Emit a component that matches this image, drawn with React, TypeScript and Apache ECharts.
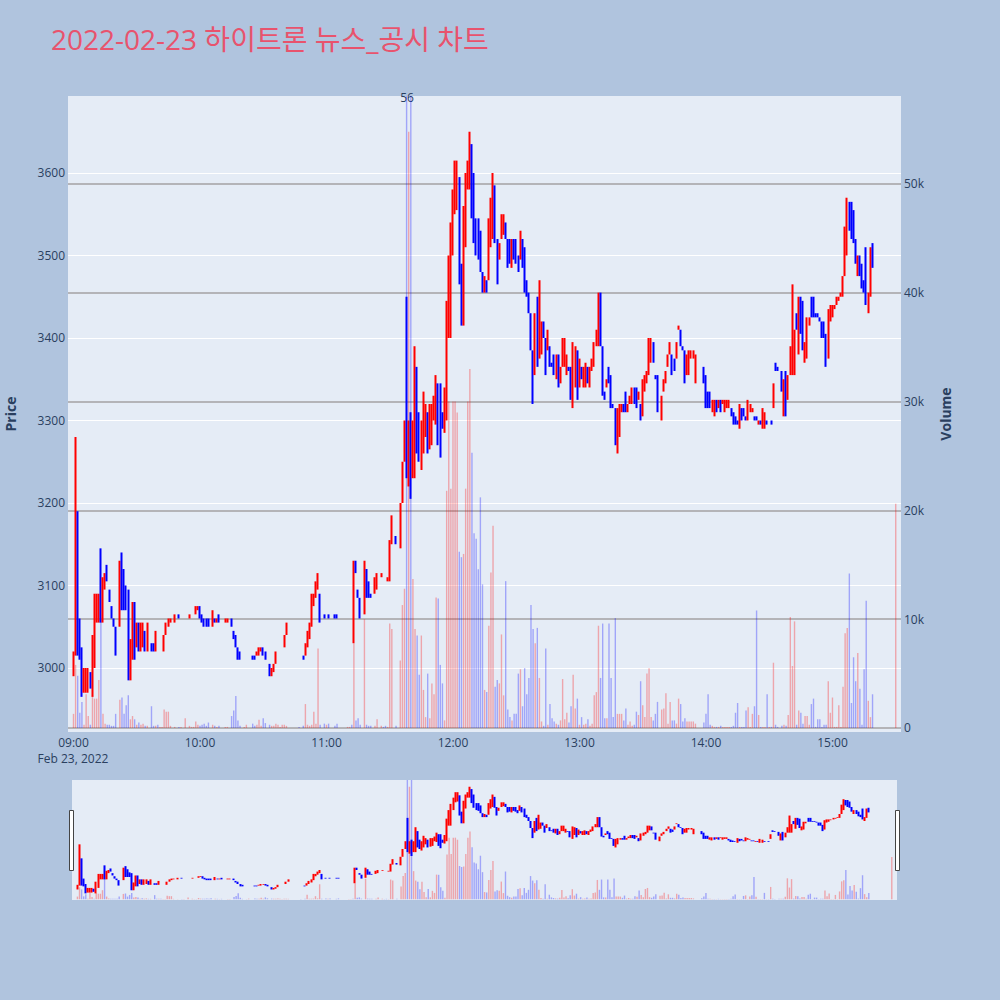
import React, { useEffect, useRef } from "react";
import * as echarts from "echarts";

// One row per minute of the session: [open, high, low, close, volume]; null = no trade in that minute.
type Row = [number, number, number, number, number] | null;

const h09: Row[] = [
  [2995, 3020, 2990, 3020, 1300], [3020, 3280, 3015, 3190, 5800], [3190, 3190, 3015, 3055, 4800], [3055, 3060, 3010, 3020, 1400], [3020, 3025, 2965, 2975, 2400],
  [2975, 3000, 2970, 3000, 300], [2980, 3000, 2970, 2995, 3100], [2975, 3000, 2970, 2995, 1100], [2990, 2995, 2975, 2980, 300], [2975, 3040, 2965, 3035, 3000],
  [3035, 3090, 3000, 3090, 2700], [3060, 3090, 3055, 3090, 2700], [3060, 3090, 3055, 3090, 4400], [3090, 3145, 3055, 3060, 10000], [3060, 3110, 3055, 3110, 1300],
  [3100, 3115, 3095, 3110, 400], [3120, 3125, 3105, 3110, 300], [3090, 3095, 3080, 3080, 300], [3075, 3075, 3060, 3065, 200], [3060, 3060, 3050, 3055, 200],
  [3050, 3050, 3015, 3015, 1300], null, [3055, 3130, 3050, 3125, 2600], [3135, 3140, 3070, 3075, 2800], [3120, 3120, 3070, 3075, 1300],
  [3100, 3100, 3070, 3075, 2100], [3090, 3095, 2985, 2985, 3000], [2985, 3035, 2985, 3030, 800], [3030, 3080, 3010, 3055, 1100], [3055, 3080, 3010, 3020, 800],
  [3025, 3055, 3025, 3050, 300], [3055, 3055, 3020, 3020, 500], [3030, 3055, 3020, 3050, 300], [3030, 3055, 3025, 3045, 400], [3045, 3045, 3020, 3025, 200],
  [3025, 3055, 3020, 3055, 200], null, [3030, 3030, 3020, 3020, 2000], [3025, 3030, 3020, 3020, 200], [3020, 3045, 3020, 3045, 200],
  [3020, 3020, 3020, 3020, 300], [3020, 3020, 3020, 3020, 100], [3020, 3020, 3020, 3020, 100], [3020, 3040, 3020, 3040, 1700], [3040, 3055, 3040, 3055, 1500],
  [3055, 3060, 3050, 3060, 1500], [3055, 3060, 3055, 3060, 200], null, [3060, 3065, 3055, 3065, 100], null,
  [3065, 3065, 3060, 3060, 100], [3060, 3060, 3060, 3060, 100], null, [3060, 3060, 3060, 3060, 900], null,
  [3060, 3065, 3060, 3065, 200], [3070, 3070, 3070, 3070, 100], [3070, 3070, 3070, 3070, 100], [3070, 3075, 3065, 3075, 600], [3070, 3075, 3070, 3075, 300],
];

const h10: Row[] = [
  [3075, 3075, 3060, 3065, 200], [3065, 3065, 3055, 3060, 300], [3060, 3060, 3050, 3055, 400], [3055, 3060, 3050, 3050, 200], [3060, 3060, 3050, 3050, 500],
  null, [3050, 3070, 3050, 3065, 300], [3060, 3060, 3055, 3055, 200], [3055, 3060, 3055, 3060, 100], [3065, 3065, 3055, 3055, 200],
  null, null, [3055, 3060, 3055, 3060, 100], [3055, 3060, 3055, 3060, 100], null,
  [3060, 3060, 3050, 3050, 1100], [3045, 3045, 3035, 3035, 1600], [3040, 3040, 3025, 3025, 2950], [3025, 3025, 3010, 3015, 700], [3020, 3020, 3010, 3010, 200],
  null, [3010, 3010, 3010, 3010, 100], [3010, 3010, 3010, 3010, 300], null, null,
  [3015, 3015, 3010, 3010, 400], [3015, 3015, 3010, 3010, 200], [3015, 3020, 3015, 3020, 300], [3020, 3025, 3015, 3025, 750], [3020, 3025, 3020, 3025, 200],
  [3025, 3025, 3015, 3015, 900], [3020, 3020, 3010, 3010, 450], null, [3005, 3005, 2990, 2990, 300], [2990, 3000, 2990, 2995, 200],
  [2995, 3005, 2995, 3005, 200], [3005, 3020, 3005, 3020, 400], [3020, 3020, 3020, 3020, 300], [3020, 3020, 3020, 3020, 100], [3020, 3020, 3020, 3020, 300],
  [3025, 3040, 3025, 3040, 300], [3040, 3055, 3040, 3055, 200], null, null, null,
  null, null, [3045, 3045, 3045, 3045, 100], null, [3015, 3015, 3010, 3010, 200],
  [3015, 3030, 3015, 3025, 2200], [3025, 3045, 3025, 3045, 300], [3040, 3055, 3035, 3055, 200], [3055, 3090, 3050, 3085, 300], [3080, 3090, 3075, 3090, 1500],
  [3085, 3105, 3085, 3100, 400], [3095, 3115, 3095, 3110, 7300], [3085, 3090, 3055, 3060, 300], null, [3065, 3065, 3060, 3060, 400],
];

const h11: Row[] = [
  [3065, 3065, 3065, 3065, 300], [3065, 3065, 3060, 3060, 400], null, null, [3065, 3065, 3060, 3060, 200],
  [3065, 3065, 3060, 3060, 400], null, null, null, null,
  [3090, 3090, 3090, 3090, 100], [3090, 3090, 3090, 3090, 100], [3085, 3085, 3085, 3085, 300], [3085, 3130, 3030, 3125, 7800], [3125, 3130, 3115, 3120, 700],
  [3095, 3095, 3085, 3090, 900], [3085, 3085, 3060, 3060, 300], null, [3065, 3130, 3065, 3125, 10000], [3120, 3120, 3085, 3085, 300],
  [3105, 3105, 3085, 3090, 200], [3090, 3090, 3085, 3085, 200], null, [3090, 3110, 3090, 3110, 200], [3100, 3115, 3095, 3110, 800],
  null, [3115, 3115, 3110, 3115, 200], [3110, 3110, 3110, 3110, 100], [3105, 3105, 3105, 3105, 200], [3105, 3110, 3105, 3110, 100],
  [3105, 3155, 3105, 3150, 9600], [3150, 3185, 3150, 3175, 9100], null, [3160, 3160, 3150, 3155, 200], null,
  [3150, 3200, 3145, 3200, 6200], [3200, 3250, 3200, 3250, 11300], [3250, 3300, 3250, 3295, 12800], [3295, 3450, 3230, 3240, 64000], [3240, 3300, 3220, 3290, 54800],
  [3290, 3310, 3205, 3230, 61000], [3240, 3300, 3230, 3290, 13700], [3260, 3390, 3230, 3300, 9100], [3365, 3365, 3260, 3280, 8500], [3300, 3310, 3250, 3260, 4900],
  [3265, 3300, 3240, 3295, 8500], [3260, 3335, 3260, 3300, 3500], [3290, 3320, 3280, 3310, 1000], [3300, 3310, 3260, 3270, 5000], [3270, 3320, 3265, 3310, 900],
  [3280, 3320, 3270, 3315, 4100], [3300, 3330, 3300, 3320, 3100], [3300, 3355, 3295, 3340, 12000], [3345, 3345, 3270, 3290, 11900], [3345, 3345, 3255, 3260, 5800],
  [3310, 3310, 3290, 3300, 4100], [3300, 3340, 3285, 3335, 700], [3330, 3445, 3300, 3440, 21800], [3400, 3500, 3400, 3490, 30000], [3420, 3540, 3400, 3530, 22000],
];

const h12: Row[] = [
  [3500, 3580, 3500, 3570, 30000], [3550, 3615, 3550, 3600, 30000], [3600, 3615, 3555, 3610, 29000], [3590, 3595, 3465, 3480, 16200], [3480, 3490, 3415, 3420, 15700],
  [3420, 3560, 3415, 3555, 16000], [3510, 3600, 3510, 3600, 22000], [3580, 3615, 3580, 3610, 30000], [3580, 3650, 3580, 3640, 33000], [3635, 3635, 3545, 3560, 25300],
  [3600, 3600, 3515, 3520, 17900], [3545, 3545, 3500, 3510, 17400], [3545, 3545, 3495, 3500, 14600], [3530, 3530, 3480, 3485, 21200], [3480, 3480, 3455, 3460, 13200],
  [3460, 3475, 3455, 3470, 3500], [3470, 3470, 3455, 3460, 3300], [3470, 3545, 3470, 3540, 9400], [3510, 3570, 3510, 3565, 14300], [3525, 3600, 3520, 3595, 18600],
  [3585, 3585, 3515, 3520, 3800], [3520, 3520, 3465, 3470, 4400], [3495, 3515, 3495, 3510, 4100], [3520, 3550, 3520, 3545, 8600], [3525, 3550, 3525, 3545, 3000],
  [3540, 3540, 3520, 3520, 13500], [3520, 3520, 3485, 3490, 1700], [3520, 3520, 3490, 3495, 1000], [3490, 3520, 3485, 3515, 700], [3520, 3520, 3495, 3500, 1300],
  [3520, 3520, 3490, 3495, 1300], [3500, 3500, 3480, 3485, 5000], [3495, 3530, 3495, 3525, 5400], [3520, 3520, 3485, 3490, 2000], [3510, 3510, 3455, 3460, 5500],
  [3470, 3470, 3450, 3455, 3100], [3455, 3455, 3430, 3430, 4600], [3430, 3430, 3385, 3390, 11300], [3385, 3385, 3320, 3350, 9100], [3355, 3430, 3355, 3420, 7800],
  [3450, 3450, 3365, 3370, 9200], [3375, 3470, 3375, 3445, 4600], [3385, 3420, 3380, 3415, 600], [3420, 3420, 3400, 3400, 200], [3400, 3400, 3355, 3360, 7300],
  [3385, 3410, 3385, 3405, 300], [3390, 3390, 3365, 3370, 2200], [3370, 3370, 3365, 3365, 900], [3380, 3380, 3355, 3355, 600], [3355, 3380, 3350, 3375, 400],
  [3380, 3380, 3340, 3345, 300], [3350, 3365, 3345, 3360, 700], [3365, 3400, 3365, 3395, 4500], [3370, 3400, 3365, 3390, 800], [3365, 3380, 3355, 3375, 1400],
  [3365, 3365, 3360, 3360, 500], [3365, 3365, 3325, 3330, 2000], [3330, 3395, 3315, 3385, 4900], [3345, 3390, 3340, 3385, 1800], [3385, 3385, 3325, 3330, 2700],
];

const h13: Row[] = [
  [3345, 3375, 3340, 3370, 300], [3365, 3365, 3350, 3350, 1000], [3345, 3365, 3340, 3360, 300], [3345, 3370, 3340, 3365, 400], [3365, 3365, 3345, 3345, 800],
  [3345, 3365, 3340, 3360, 200], [3360, 3375, 3360, 3370, 400], [3365, 3395, 3365, 3390, 3000], [3390, 3410, 3390, 3405, 3300], [3400, 3455, 3390, 3450, 9400],
  [3450, 3455, 3390, 3395, 4600], [3390, 3390, 3330, 3335, 9600], [3335, 3335, 3325, 3325, 900], [3340, 3350, 3340, 3350, 900], [3365, 3365, 3345, 3345, 9600],
  [3355, 3355, 3315, 3320, 4600], [3320, 3320, 3315, 3315, 1000], [3315, 3315, 3270, 3275, 10100], [3270, 3315, 3260, 3310, 1300], [3280, 3320, 3280, 3315, 1300],
  [3310, 3320, 3310, 3315, 1300], [3320, 3320, 3310, 3310, 700], [3335, 3335, 3310, 3315, 1800], [3310, 3320, 3310, 3320, 300], [3320, 3330, 3320, 3330, 600],
  [3330, 3340, 3320, 3340, 200], [3340, 3340, 3320, 3325, 300], [3340, 3340, 3315, 3320, 1500], [3325, 3335, 3325, 3335, 1200], [3320, 3320, 3300, 3305, 4300],
  [3310, 3350, 3305, 3345, 2100], [3340, 3355, 3335, 3350, 1000], [3350, 3360, 3345, 3360, 5000], [3360, 3400, 3355, 3390, 5500], [3380, 3400, 3370, 3395, 1000],
  [3395, 3395, 3370, 3370, 700], [3355, 3355, 3350, 3350, 1300], [3355, 3355, 3310, 3320, 2400], null, [3300, 3330, 3300, 3325, 1700],
  [3335, 3350, 3335, 3345, 1800], [3345, 3360, 3345, 3355, 3200], [3365, 3380, 3365, 3380, 400], [3380, 3395, 3380, 3395, 2400], [3380, 3380, 3355, 3360, 700],
  [3375, 3375, 3360, 3365, 700], [3375, 3395, 3375, 3390, 400], [3410, 3415, 3410, 3415, 2700], [3410, 3410, 3390, 3395, 2200], [3390, 3390, 3385, 3385, 600],
  [3385, 3385, 3345, 3355, 900], [3355, 3380, 3355, 3375, 600], [3355, 3385, 3355, 3380, 600], [3375, 3385, 3375, 3380, 600], [3375, 3385, 3375, 3385, 600],
  [3350, 3380, 3345, 3375, 400], null, null, null, [3365, 3365, 3345, 3345, 500],
];

const h14: Row[] = [
  [3355, 3355, 3315, 3320, 1300], [3335, 3335, 3315, 3315, 3100], [3335, 3335, 3315, 3320, 300], [3310, 3325, 3310, 3325, 200], [3305, 3325, 3305, 3325, 100],
  [3325, 3325, 3310, 3310, 100], [3315, 3325, 3315, 3325, 100], [3325, 3325, 3310, 3310, 200], [3320, 3325, 3320, 3325, 100], [3310, 3325, 3310, 3325, 100],
  [3315, 3325, 3315, 3325, 100], [3315, 3325, 3315, 3325, 100], [3315, 3315, 3305, 3305, 100], [3310, 3310, 3295, 3300, 200], [3305, 3305, 3295, 3300, 1400],
  [3300, 3300, 3295, 3295, 2300], [3295, 3320, 3290, 3320, 100], [3315, 3315, 3300, 3305, 100], [3315, 3315, 3305, 3305, 100], [3305, 3305, 3300, 3300, 1600],
  [3300, 3325, 3300, 3320, 1900], [3310, 3320, 3310, 3320, 100], [3310, 3315, 3310, 3315, 1300], [3305, 3305, 3300, 3300, 2000], [3305, 3305, 3300, 3300, 10800],
  [3295, 3300, 3295, 3300, 1200], [3300, 3300, 3295, 3295, 100], [3290, 3315, 3290, 3310, 100], [3290, 3310, 3290, 3305, 100], [3300, 3300, 3295, 3295, 3100],
  [3300, 3300, 3300, 3300, 100], [3300, 3300, 3295, 3295, 100], [3315, 3345, 3315, 3345, 6000], [3370, 3370, 3360, 3360, 300], [3365, 3365, 3360, 3360, 100],
  null, [3360, 3360, 3335, 3335, 200], [3310, 3350, 3305, 3345, 300], [3360, 3360, 3305, 3310, 200], [3325, 3355, 3325, 3350, 1200],
  [3355, 3390, 3355, 3385, 10200], [3385, 3465, 3355, 3420, 5700], [3360, 3410, 3355, 3405, 9800], [3430, 3430, 3410, 3410, 300], [3385, 3450, 3380, 3445, 1600],
  [3450, 3450, 3405, 3410, 1400], [3445, 3445, 3385, 3390, 400], [3375, 3395, 3370, 3390, 1100], [3385, 3425, 3375, 3420, 1100], [3415, 3425, 3415, 3425, 300],
  [3450, 3450, 3425, 3430, 2200], [3450, 3450, 3425, 3430, 2700], [3430, 3430, 3425, 3425, 100], [3430, 3430, 3425, 3425, 800], [3425, 3425, 3420, 3420, 800],
  [3420, 3420, 3400, 3405, 100], [3420, 3420, 3400, 3400, 300], [3405, 3405, 3365, 3370, 300], [3380, 3435, 3375, 3430, 4300], [3425, 3440, 3420, 3435, 1400],
];

const h15: Row[] = [
  [3430, 3440, 3425, 3435, 2800], [3435, 3440, 3435, 3440, 100], [3440, 3450, 3440, 3450, 100], [3450, 3450, 3445, 3450, 2100], [3450, 3455, 3450, 3455, 100],
  [3455, 3475, 3450, 3475, 3800], [3475, 3535, 3475, 3530, 8700], [3505, 3570, 3500, 3565, 9200], [3565, 3565, 3530, 3535, 14200], [3560, 3565, 3520, 3525, 2300],
  [3555, 3555, 3515, 3520, 6500], [3520, 3520, 3490, 3495, 4300], [3480, 3500, 3475, 3495, 6900], [3495, 3500, 3475, 3480, 3600], [3490, 3490, 3460, 3460, 300],
  [3470, 3470, 3455, 3460, 5400], [3510, 3510, 3440, 3450, 11700], [3435, 3455, 3430, 3450, 2500], [3455, 3510, 3450, 3505, 1000], [3515, 3515, 3485, 3490, 3100],
  null, null, null, null, null, null, null, null, null, null,
  [3550, 3550, 3550, 3550, 20600],
];

const hours = [h09, h10, h11, h12, h13, h14, h15];

const priceTicks = [3000, 3100, 3200, 3300, 3400, 3500, 3600];
const volumeTicks = [0, 10000, 20000, 30000, 40000, 50000];
const hourTicks = [0, 60, 120, 180, 240, 300, 360]; // minutes after 09:00

const UP = "#ff0000";
const DOWN = "#0000ff";
const UP_VOL = "rgba(255,0,0,0.3)";
const DOWN_VOL = "rgba(0,0,255,0.3)";
const INK = "#2a3f5f";
const FONT = '"Open Sans", verdana, arial, sans-serif';

const timeLabel = (v: number) => {
  const h = 9 + Math.floor(v / 60);
  const m = v % 60;
  return `${String(h).padStart(2, "0")}:${String(m).padStart(2, "0")}`;
};

function buildSeriesData() {
  const candles: number[][] = [];
  const volumes: any[] = [];
  let prevClose = NaN;
  hours.forEach((rows, hi) => {
    rows.forEach((r, i) => {
      if (!r) return;
      const t = hi * 60 + i;
      const [o, h, l, c, v] = r;
      candles.push([t, o, c, l, h]);
      const up = c > o || (c === o && !(prevClose > c));
      volumes.push({ value: [t, v], itemStyle: { color: up ? UP_VOL : DOWN_VOL } });
      prevClose = c;
    });
  });
  return { candles, volumes };
}

export default function App() {
  const ref = useRef<HTMLDivElement>(null);

  useEffect(() => {
    if (!ref.current) return;
    const chart = echarts.init(ref.current, undefined, { renderer: "svg" });
    const { candles, volumes } = buildSeriesData();

    const xMin = -2.6;
    const xMax = 392.5;
    const pMin = 2922.4;
    const pMax = 3693.3;
    const vMin = -368;
    const vMax = 58088;

    const candleStyle = {
      color: UP,
      color0: DOWN,
      borderColor: UP,
      borderColor0: DOWN,
      borderWidth: 2,
    };

    chart.setOption({
      animation: false,
      backgroundColor: "#b0c4de",
      textStyle: { fontFamily: FONT },
      grid: [
        { left: 68, top: 96, width: 833, height: 636, show: true, backgroundColor: "#e5ecf6", borderWidth: 0 },
        { left: 72, top: 780, width: 825, height: 120, show: true, backgroundColor: "#e5ecf6", borderWidth: 0 },
      ],
      xAxis: [
        {
          type: "value", gridIndex: 0, min: xMin, max: xMax,
          axisLine: { show: false }, axisTick: { show: false }, splitLine: { show: false },
          axisLabel: { customValues: hourTicks, formatter: timeLabel, color: INK, fontSize: 12, margin: 4, fontFamily: FONT },
        },
        { type: "value", gridIndex: 1, min: xMin, max: xMax, show: false, splitLine: { show: false } },
      ],
      yAxis: [
        {
          type: "value", gridIndex: 0, min: pMin, max: pMax, position: "left",
          axisLine: { show: false }, axisTick: { show: false, customValues: priceTicks },
          axisLabel: { customValues: priceTicks, color: INK, fontSize: 12, margin: 3, fontFamily: FONT, formatter: (v: number) => String(v) },
          splitLine: { show: true, lineStyle: { color: "#ffffff", width: 1 } },
        },
        {
          type: "value", gridIndex: 0, min: vMin, max: vMax, position: "right",
          axisLine: { show: false }, axisTick: { show: false, customValues: volumeTicks },
          axisLabel: {
            customValues: volumeTicks, color: INK, fontSize: 12, margin: 3, fontFamily: FONT,
            formatter: (v: number) => (v === 0 ? "0" : `${v / 1000}k`),
          },
          splitLine: { show: true, lineStyle: { color: "#b4b4b8", width: 2 } },
        },
        { type: "value", gridIndex: 1, min: pMin, max: pMax, show: false, splitLine: { show: false } },
        { type: "value", gridIndex: 1, min: vMin, max: vMax, show: false, splitLine: { show: false } },
      ],
      series: [
        { type: "bar", xAxisIndex: 0, yAxisIndex: 1, data: volumes, barWidth: 1.4, z: 1 },
        { type: "candlestick", xAxisIndex: 0, yAxisIndex: 0, data: candles, barWidth: 1, itemStyle: candleStyle, z: 2 },
        { type: "bar", xAxisIndex: 1, yAxisIndex: 3, data: volumes, barWidth: 1.4, z: 1 },
        { type: "candlestick", xAxisIndex: 1, yAxisIndex: 2, data: candles, barWidth: 1, itemStyle: candleStyle, z: 2 },
      ],
      graphic: [
        {
          type: "text", left: 51, top: 25,
          style: { text: "2022-02-23 하이트론 뉴스_공시 차트", fill: "#e8536d", font: `28px "Open Sans", "Noto Sans CJK KR", sans-serif` },
        },
        {
          type: "text", x: 10, y: 414, rotation: Math.PI / 2,
          style: { text: "Price", fill: INK, font: `bold 14px ${FONT}`, align: "center", verticalAlign: "middle" },
        },
        {
          type: "text", x: 945, y: 414, rotation: Math.PI / 2,
          style: { text: "Volume", fill: INK, font: `bold 14px ${FONT}`, align: "center", verticalAlign: "middle" },
        },
        {
          type: "text", x: 73, y: 758,
          style: { text: "Feb 23, 2022", fill: INK, font: `12px ${FONT}`, align: "center", verticalAlign: "middle" },
        },
        {
          type: "text", x: 407, y: 97,
          style: { text: "56", fill: INK, font: `12px ${FONT}`, align: "center", verticalAlign: "middle" },
        },
        {
          type: "rect", shape: { x: 69.5, y: 810.5, width: 4, height: 60 },
          style: { fill: "#ffffff", stroke: "#444444", lineWidth: 1 },
        },
        {
          type: "rect", shape: { x: 895.5, y: 810.5, width: 4, height: 60 },
          style: { fill: "#ffffff", stroke: "#444444", lineWidth: 1 },
        },
      ],
    });

    return () => chart.dispose();
  }, []);

  return <div ref={ref} style={{ position: "fixed", left: 0, top: 0, width: 1000, height: 1000 }} />;
}
